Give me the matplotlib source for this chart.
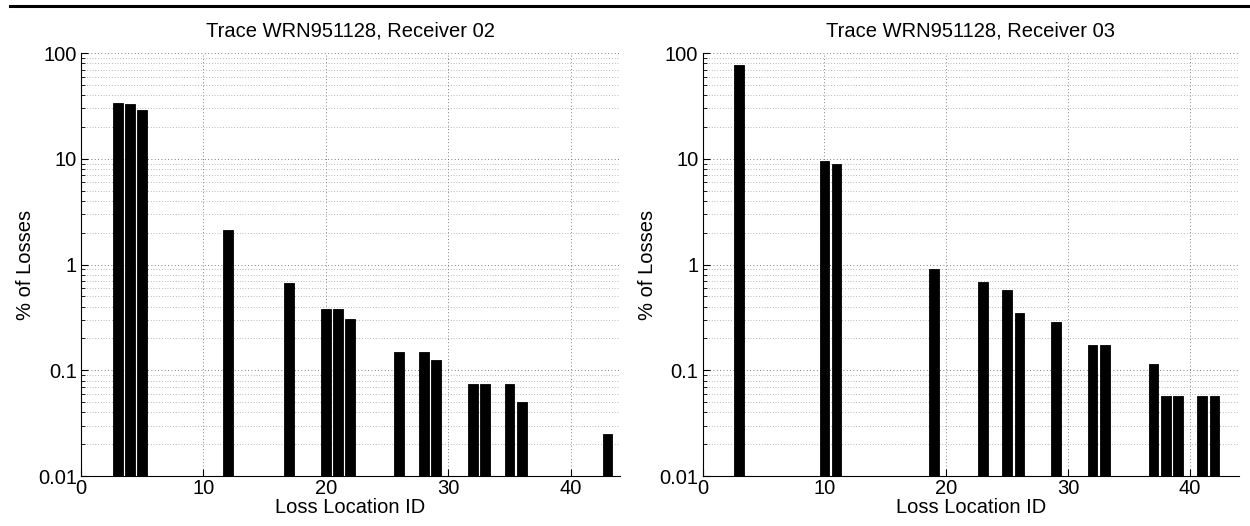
import matplotlib
matplotlib.use("Agg")
import matplotlib.pyplot as plt
from matplotlib.ticker import LogLocator, FixedLocator, FuncFormatter, NullFormatter

plt.rcParams['font.family'] = ['Liberation Sans', 'DejaVu Sans']

# ---- 数据：损失位置与百分比 ----
ids_r02 = [3, 4, 5, 12, 17, 20, 21, 22, 26, 28, 29, 32, 33, 35, 36, 43]
pct_r02 = [34, 33, 29, 2.12, 0.67, 0.377, 0.377, 0.303, 0.150, 0.150, 0.125,
           0.075, 0.075, 0.075, 0.0505, 0.025]

ids_r03 = [3, 10, 11, 19, 23, 25, 26, 29, 32, 33, 37, 38, 39, 41, 42]
pct_r03 = [78, 9.5, 8.9, 0.91, 0.69, 0.574, 0.345, 0.288, 0.172, 0.172,
           0.115, 0.0575, 0.0575, 0.0575, 0.0575]

titles = ["Trace WRN951128, Receiver 02", "Trace WRN951128, Receiver 03"]
xticks = [0, 10, 20, 30, 40]
FS = 14.5


def fmt_y(v, pos):
    return {100: "100", 10: "10", 1: "1", 0.1: "0.1", 0.01: "0.01"}.get(round(v, 4), "")


def draw_panel(ax, ids, pct, title):
    ax.bar(ids, pct, width=0.8, color="black", edgecolor="black", linewidth=0.6,
           zorder=3)
    ax.set_yscale("log")
    ax.set_xlim(0, 44)
    ax.set_ylim(0.01, 100)
    ax.xaxis.set_major_locator(FixedLocator(xticks))
    ax.yaxis.set_major_locator(LogLocator(base=10))
    ax.yaxis.set_minor_locator(LogLocator(base=10, subs=range(2, 10)))
    ax.yaxis.set_major_formatter(FuncFormatter(fmt_y))
    ax.yaxis.set_minor_formatter(NullFormatter())

    # MATLAB 风格的点状网格
    ax.grid(True, which="major", axis="both", linestyle=(0, (1, 3)),
            color="#555555", linewidth=0.6, zorder=0)
    ax.grid(True, which="minor", axis="y", linestyle=(0, (1, 3)),
            color="#777777", linewidth=0.5, zorder=0)

    ax.tick_params(which="both", direction="in", labelsize=FS)
    ax.tick_params(axis="y", pad=3)
    ax.tick_params(axis="x", pad=2)
    ax.tick_params(which="major", length=5)
    ax.tick_params(which="minor", length=3)
    ax.spines["top"].set_visible(False)
    ax.spines["right"].set_visible(False)
    ax.spines["left"].set_linewidth(0.8)
    ax.spines["bottom"].set_linewidth(0.8)

    ax.set_title(title, fontsize=FS, pad=12)
    ax.set_xlabel("Loss Location ID", fontsize=FS, labelpad=0)
    ax.set_ylabel("% of Losses", fontsize=FS, labelpad=2)


fig = plt.figure(figsize=(12.5, 5.26), dpi=100)
ax1 = fig.add_axes([0.0648, 0.095, 0.431, 0.804])
ax2 = fig.add_axes([0.562, 0.095, 0.429, 0.804])

draw_panel(ax1, ids_r02, pct_r02, titles[0])
draw_panel(ax2, ids_r03, pct_r03, titles[1])

# 顶部的横线
fig.add_artist(plt.Line2D([0.008, 1.0], [0.989, 0.989], color="black", linewidth=2.2))

fig.savefig("out.png", dpi=100)
